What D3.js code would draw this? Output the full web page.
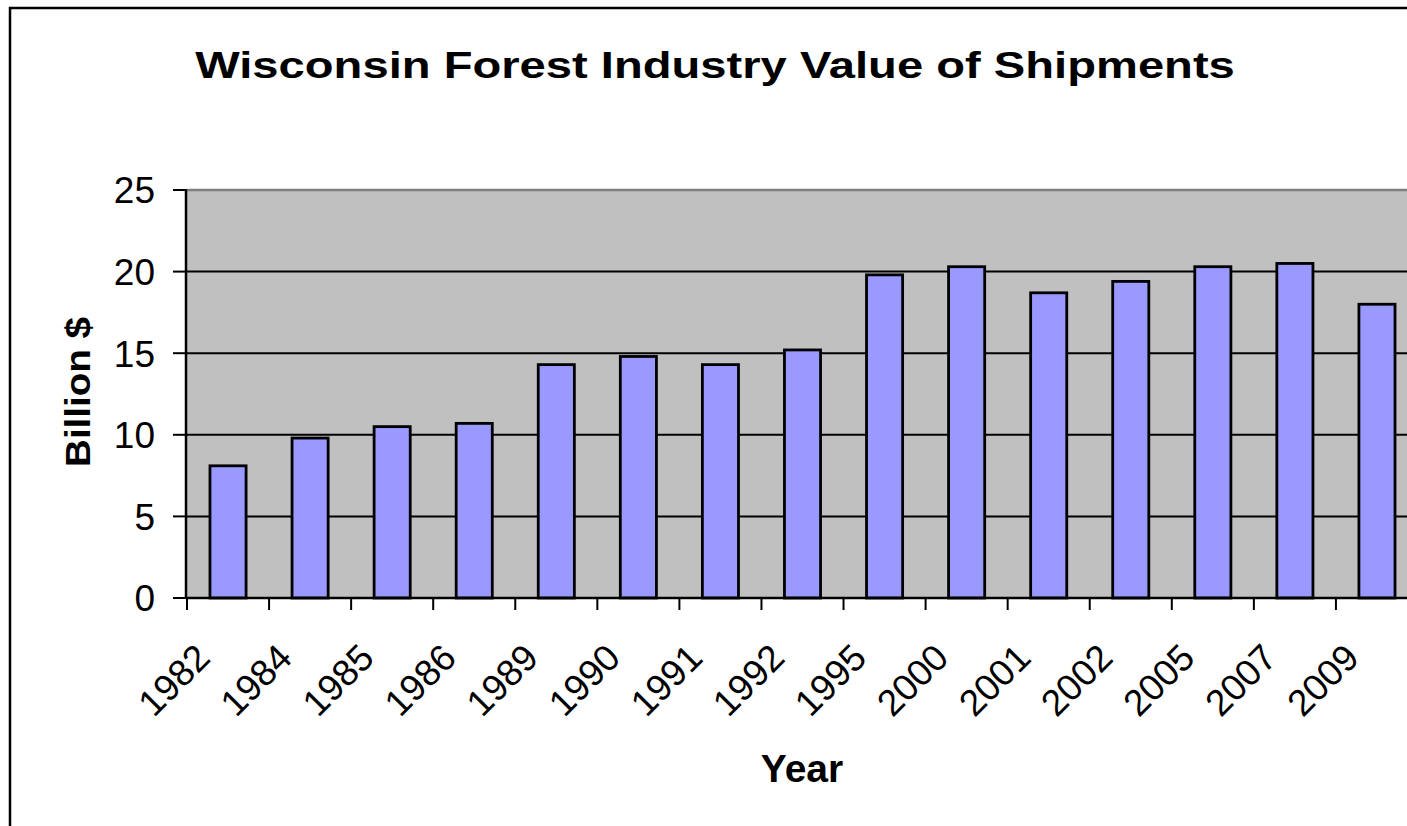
<!DOCTYPE html>
<html lang="en">
  <head>
    <title>Wisconsin Forest Industry Value of Shipments</title>
    <meta charset="utf-8" />
    <script type="text/javascript" src="https://d3js.org/d3.v7.min.js"></script>
    <style>
      body { margin: 0; background: #fff; }
      text { font-family: "Liberation Sans", Arial, sans-serif; fill: #000; }
    </style>
  </head>

  <body>
    <div class="div_d3"></div>

    <script type="text/javascript">
      // data
      let years = ["1982", "1984", "1985", "1986", "1989", "1990", "1991", "1992",
        "1995", "2000", "2001", "2002", "2005", "2007", "2009"];
      let shipments = [8.1, 9.8, 10.5, 10.7, 14.3, 14.8, 14.3, 15.2,
        19.8, 20.3, 18.7, 19.4, 20.3, 20.5, 18.0];
      let yTicks = [0, 5, 10, 15, 20, 25];

      let w = 1407;
      let h = 826;
      let plotLeft = 187, plotRight = 1418, plotTop = 190, plotBottom = 598;

      let svg = d3
        .select(".div_d3")
        .append("svg")
        .attr("width", w)
        .attr("height", h);

      // outer chart border (runs off the right and bottom edge)
      svg.append("rect")
        .attr("x", 10).attr("y", 8)
        .attr("width", 1500).attr("height", 900)
        .attr("fill", "#fff")
        .attr("stroke", "#000")
        .attr("stroke-width", 2.5);

      let x = d3.scaleBand()
        .domain(years)
        .range([plotLeft, plotRight])
        .paddingInner(0.56)
        .paddingOuter(0.28);

      let y = d3.scaleLinear()
        .domain([0, 25])
        .range([plotBottom, plotTop]);

      let step = x.step();

      // plot background
      svg.append("rect")
        .attr("x", plotLeft).attr("y", y(25))
        .attr("width", plotRight - plotLeft).attr("height", y(0) - y(25))
        .attr("fill", "#c0c0c0");

      // gridlines
      svg.selectAll(".grid")
        .data(yTicks.filter(d => d > 0 && d < 25))
        .join("line")
        .attr("class", "grid")
        .attr("x1", plotLeft).attr("x2", plotRight)
        .attr("y1", d => y(d)).attr("y2", d => y(d))
        .attr("stroke", "#000")
        .attr("stroke-width", 2);

      // top border of plot area
      svg.append("line")
        .attr("x1", plotLeft).attr("x2", plotRight)
        .attr("y1", y(25)).attr("y2", y(25))
        .attr("stroke", "#808080")
        .attr("stroke-width", 2.5);

      // bars
      svg.selectAll(".bar")
        .data(shipments)
        .join("rect")
        .attr("class", "bar")
        .attr("x", (d, i) => x(years[i]))
        .attr("y", d => y(d))
        .attr("width", x.bandwidth())
        .attr("height", d => y(0) - y(d))
        .attr("fill", "#9999ff")
        .attr("stroke", "#000")
        .attr("stroke-width", 2.8);

      // y axis
      svg.append("line")
        .attr("x1", plotLeft - 1).attr("x2", plotLeft - 1)
        .attr("y1", y(25)).attr("y2", y(0))
        .attr("stroke", "#000").attr("stroke-width", 2.5);

      svg.selectAll(".ytick")
        .data(yTicks)
        .join("line")
        .attr("class", "ytick")
        .attr("x1", plotLeft - 14).attr("x2", plotLeft)
        .attr("y1", d => y(d)).attr("y2", d => y(d))
        .attr("stroke", "#000").attr("stroke-width", 2);

      svg.selectAll(".ylabel")
        .data(yTicks)
        .join("text")
        .attr("class", "ylabel")
        .attr("x", 155)
        .attr("y", d => y(d))
        .attr("dy", "0.36em")
        .attr("text-anchor", "end")
        .style("font-size", "37px")
        .text(d => d);

      // x axis
      svg.append("line")
        .attr("x1", plotLeft).attr("x2", plotRight)
        .attr("y1", y(0)).attr("y2", y(0))
        .attr("stroke", "#000").attr("stroke-width", 2.5);

      svg.selectAll(".xtick")
        .data(years)
        .join("line")
        .attr("class", "xtick")
        .attr("x1", (d, i) => plotLeft + i * step)
        .attr("x2", (d, i) => plotLeft + i * step)
        .attr("y1", y(0)).attr("y2", y(0) + 12)
        .attr("stroke", "#000").attr("stroke-width", 2);

      svg.selectAll(".xlabel")
        .data(years)
        .join("text")
        .attr("class", "xlabel")
        .attr("transform", d => `translate(${x(d) + x.bandwidth() / 2 - 16}, ${y(0) + 62}) rotate(-45)`)
        .attr("text-anchor", "end")
        .style("font-size", "37px")
        .text(d => d);

      // title: the original is drawn wider than the font, so stretch it
      let title = svg.append("text")
        .attr("text-anchor", "middle")
        .style("font-size", "37px")
        .style("font-weight", "bold")
        .text("Wisconsin Forest Industry Value of Shipments");
      let tw = title.node().getComputedTextLength();
      title.attr("transform", `translate(715, 78) scale(${1040 / tw}, 1)`);

      let ylab = svg.append("text")
        .attr("text-anchor", "middle")
        .style("font-size", "35px")
        .style("font-weight", "bold")
        .text("Billion $");
      let yw = ylab.node().getComputedTextLength();
      ylab.attr("transform", `translate(90, 392) rotate(-90) scale(${150 / yw}, 1)`);

      svg.append("text")
        .attr("x", 802).attr("y", 782)
        .attr("text-anchor", "middle")
        .style("font-size", "39px")
        .style("font-weight", "bold")
        .text("Year");
    </script>
  </body>
</html>
